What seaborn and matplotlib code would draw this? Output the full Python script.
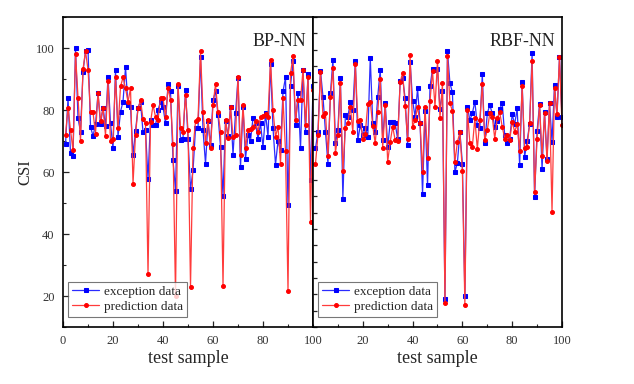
import numpy as np
import matplotlib
matplotlib.use("Agg")
import matplotlib.pyplot as plt
import seaborn as sns
from matplotlib.ticker import MultipleLocator, FixedLocator

# test sample index
samples = np.arange(1, 101)

# BP-NN panel
bp_expected = [68.9, 83.8, 66.0, 65.2, 100.0, 77.3, 73.0, 92.4, 99.0, 99.5,
               74.6, 71.6, 75.4, 85.4, 75.4, 80.8, 74.8, 90.8, 75.7, 67.6,
               93.0, 71.4, 79.5, 82.7, 93.8, 81.6, 81.0, 65.6, 73.2, 80.8,
               82.7, 72.8, 73.5, 57.8, 76.8, 75.1, 75.1, 80.0, 82.7, 81.0,
               75.7, 88.3, 86.0, 63.8, 54.0, 87.6, 70.3, 70.8, 86.5, 70.8,
               54.4, 60.5, 74.1, 74.1, 97.0, 73.5, 62.7, 76.4, 68.6, 83.2,
               86.0, 78.4, 68.1, 52.4, 76.4, 71.7, 81.0, 65.6, 78.9, 90.3,
               61.6, 81.0, 64.3, 71.9, 70.0, 77.5, 75.7, 70.8, 75.7, 68.0,
               78.9, 71.4, 94.8, 74.1, 62.4, 70.0, 67.0, 86.0, 90.5, 49.2,
               87.8, 95.7, 75.1, 85.4, 67.6, 93.0, 73.0, 91.6, 57.3, 87.6]
bp_predicted = [72.1, 80.8, 73.5, 67.0, 98.2, 84.0, 70.0, 93.2, 99.0, 93.0,
                79.2, 79.2, 72.4, 85.4, 76.4, 80.8, 71.7, 89.4, 70.0, 70.6,
                90.5, 74.1, 87.6, 90.5, 87.0, 82.7, 87.0, 56.2, 72.1, 80.5,
                83.2, 77.1, 75.7, 27.0, 76.0, 81.6, 77.8, 76.8, 83.8, 83.8,
                77.8, 87.0, 83.2, 68.9, 20.0, 88.3, 74.1, 73.0, 85.0, 73.5,
                23.0, 67.6, 76.4, 77.1, 98.9, 79.5, 69.5, 76.8, 67.6, 81.6,
                88.3, 79.2, 73.0, 23.2, 76.8, 71.0, 81.0, 71.3, 71.9, 90.8,
                65.4, 81.6, 67.7, 73.5, 73.8, 74.6, 76.4, 73.0, 77.8, 78.0,
                78.7, 77.8, 96.1, 80.0, 71.4, 74.6, 62.7, 83.8, 66.8, 21.6,
                91.9, 97.3, 76.8, 83.2, 83.2, 93.0, 75.1, 90.5, 44.0, 86.5]

# RBF-NN panel
rbf_expected = [67.6, 73.0, 92.7, 84.3, 73.0, 62.7, 85.4, 96.1, 69.2, 73.7,
                90.3, 51.4, 78.4, 77.8, 82.7, 80.0, 95.9, 70.2, 75.1, 71.9,
                74.3, 71.4, 96.8, 75.7, 73.0, 84.3, 93.0, 70.3, 82.2, 68.1,
                76.0, 76.0, 75.7, 70.6, 89.2, 90.3, 83.8, 68.6, 95.5, 83.0,
                77.8, 87.0, 75.7, 53.0, 79.7, 55.7, 87.6, 93.2, 93.0, 93.2,
                80.3, 86.0, 19.0, 99.1, 88.6, 85.7, 60.0, 63.0, 73.0, 62.7,
                20.0, 81.0, 76.8, 78.9, 82.7, 75.1, 74.3, 91.6, 69.2, 78.9,
                81.6, 78.9, 74.6, 76.4, 80.3, 82.2, 71.9, 69.5, 70.6, 78.6,
                75.4, 80.5, 62.2, 88.9, 64.9, 70.0, 75.4, 98.4, 51.9, 73.3,
                81.9, 60.9, 79.2, 64.3, 82.4, 69.7, 88.1, 77.8, 97.0, 77.8]
rbf_predicted = [62.7, 72.0, 92.4, 78.0, 79.1, 65.2, 84.3, 93.7, 66.2, 71.9,
                 88.6, 60.2, 74.3, 75.7, 81.0, 72.8, 94.8, 76.4, 76.8, 70.8,
                 72.4, 81.9, 82.7, 74.9, 69.2, 79.5, 90.0, 67.8, 81.6, 63.3,
                 69.7, 74.6, 70.3, 70.0, 89.0, 91.9, 81.4, 70.6, 97.8, 74.6,
                 76.8, 81.0, 75.7, 60.0, 81.0, 64.6, 82.9, 92.6, 81.0, 95.9,
                 77.5, 88.7, 17.9, 97.3, 82.2, 79.7, 63.3, 69.7, 72.8, 60.2,
                 17.0, 80.0, 69.5, 68.1, 77.3, 67.4, 76.8, 88.3, 70.3, 73.5,
                 78.9, 77.8, 70.8, 77.3, 79.2, 74.6, 70.8, 72.0, 70.3, 76.2,
                 73.0, 75.4, 66.8, 87.6, 67.8, 68.1, 75.7, 95.7, 53.5, 70.8,
                 81.6, 65.2, 78.9, 63.5, 82.4, 47.2, 87.2, 78.6, 97.0, 75.1]

panels = [("BP-NN", bp_expected, bp_predicted),
          ("RBF-NN", rbf_expected, rbf_predicted)]

sns.set_theme(style="ticks")
plt.rcParams["font.family"] = ["Liberation Serif", "DejaVu Serif"]
plt.rcParams["xtick.direction"] = "in"
plt.rcParams["ytick.direction"] = "in"

fig = plt.figure(figsize=(6.34, 3.84), dpi=100)
ax_left = fig.add_axes([0.0994, 0.1484, 0.3943, 0.8073])
ax_right = fig.add_axes([0.4937, 0.1484, 0.3927, 0.8073])

for ax, (name, expected, predicted) in zip([ax_left, ax_right], panels):
    sns.lineplot(x=samples, y=expected, ax=ax, color="#2b2bff", lw=0.9,
                 marker="s", markersize=2.6, markerfacecolor="#0000ff",
                 markeredgecolor="#0000ff", label="exception data")
    sns.lineplot(x=samples, y=predicted, ax=ax, color="#ff3b3b", lw=0.9,
                 marker="o", markersize=2.8, markerfacecolor="#ff0000",
                 markeredgecolor="#ff0000", label="prediction data")
    ax.set_xlim(0, 100)
    ax.set_ylim(10, 110)
    ax.xaxis.set_major_locator(MultipleLocator(20))
    ax.xaxis.set_minor_locator(MultipleLocator(10))
    ax.tick_params(axis="both", which="major", length=4, width=0.9,
                   labelsize=9, labelcolor="#333333", pad=6)
    ax.tick_params(axis="both", which="minor", length=2.5, width=0.8)
    for sp in ax.spines.values():
        sp.set_visible(True)
        sp.set_color("black")
        sp.set_linewidth(1.2)
    ax.set_xlabel("test sample", fontsize=13, labelpad=2)
    ax.text(0.972, 0.922, name, transform=ax.transAxes, ha="right",
            va="center", fontsize=13, color="#222222")
    leg = ax.legend(loc="lower left", bbox_to_anchor=(0.019, 0.033),
                    borderaxespad=0, fontsize=9.5, frameon=True, fancybox=False,
                    handlelength=2.1, handletextpad=0.35, borderpad=0.3,
                    labelspacing=0.2, edgecolor="#555555")
    leg.get_frame().set_linewidth(0.8)

ax_left.yaxis.set_major_locator(MultipleLocator(20))
ax_left.yaxis.set_minor_locator(MultipleLocator(10))
ax_left.set_ylabel("CSI", fontsize=12, labelpad=2)

ax_right.yaxis.set_major_locator(FixedLocator(np.linspace(10, 110, 20)))
ax_right.yaxis.set_minor_locator(FixedLocator([]))
ax_right.tick_params(axis="y", labelleft=False, length=3)
ax_right.set_ylabel("")
ax_right.set_xticks([20, 40, 60, 80, 100])

fig.savefig("out.png", dpi=100, facecolor="white")
